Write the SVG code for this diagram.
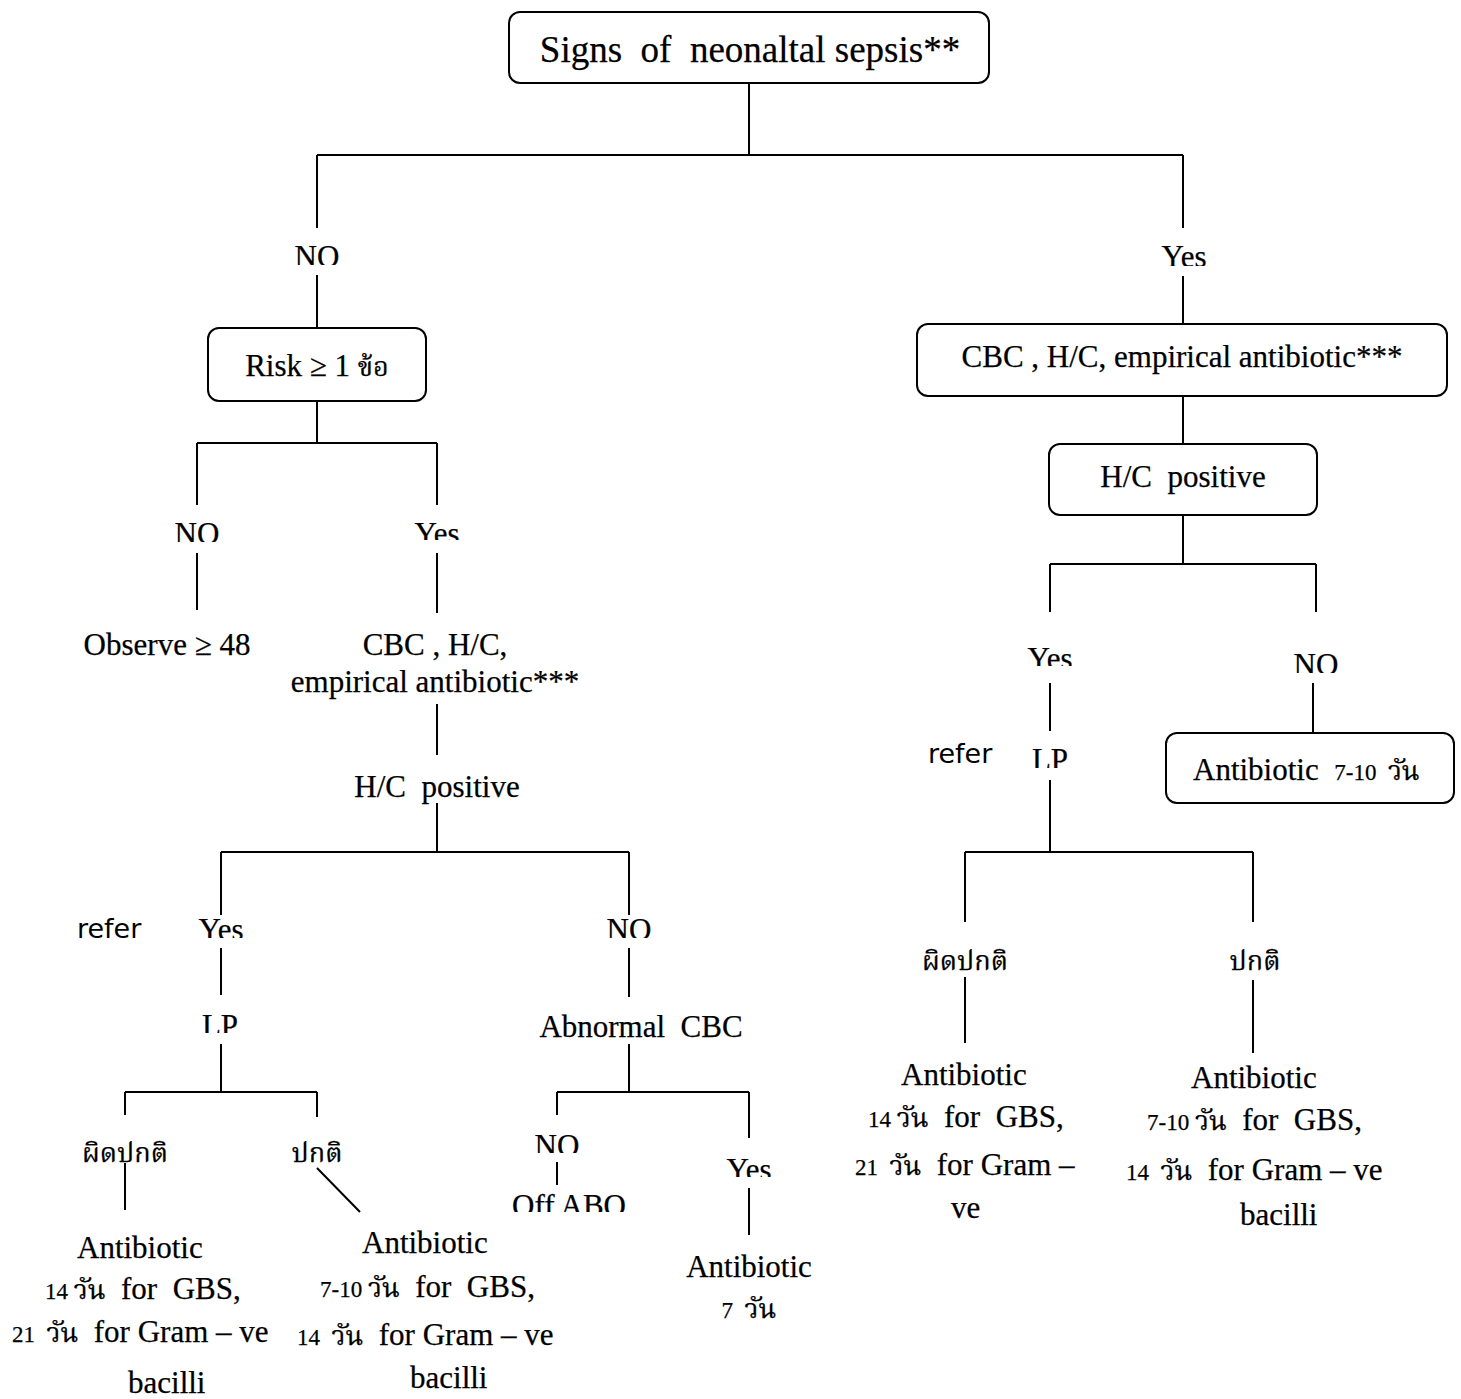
<svg xmlns="http://www.w3.org/2000/svg" width="1461" height="1399" viewBox="0 0 1461 1399">
<style>
text{font-family:"Liberation Serif","Noto Serif Thai","Noto Sans Thai","Tlwg Typo","Norasi","Garuda",serif;font-size:31px;fill:#000;stroke:#000;stroke-width:0.25}
.big{font-size:37px}
.s{font-size:23px}
.th{font-size:27px}
.m{text-anchor:middle}
.sans{font-family:"DejaVu Sans","Liberation Sans",sans-serif;font-size:27px;stroke-width:0}
.box{fill:#fff;stroke:#000;stroke-width:2}
.ln{fill:none;stroke:#000;stroke-width:2}
</style>
<defs>
<clipPath id="cNO1"><rect x="260" y="220" width="120" height="45"/></clipPath>
<clipPath id="cYes1"><rect x="1130" y="220" width="120" height="46"/></clipPath>
<clipPath id="cNO2"><rect x="150" y="500" width="100" height="42"/></clipPath>
<clipPath id="cYes2"><rect x="390" y="500" width="100" height="40"/></clipPath>
<clipPath id="cYes3"><rect x="170" y="900" width="100" height="38"/></clipPath>
<clipPath id="cNO3"><rect x="580" y="900" width="100" height="38"/></clipPath>
<clipPath id="cLP1"><rect x="170" y="1000" width="100" height="33"/></clipPath>
<clipPath id="cNO4"><rect x="510" y="1120" width="100" height="33"/></clipPath>
<clipPath id="cOff"><rect x="490" y="1180" width="160" height="32"/></clipPath>
<clipPath id="cYes4"><rect x="700" y="1140" width="100" height="37"/></clipPath>
<clipPath id="cYes5"><rect x="1000" y="630" width="100" height="36"/></clipPath>
<clipPath id="cNO5"><rect x="1260" y="630" width="100" height="43"/></clipPath>
<clipPath id="cLP2"><rect x="1000" y="735" width="100" height="33"/></clipPath>
</defs>

<g id="connectors">
<path class="ln" d="M749 84V155M317 155H1183M317 155V228M1183 155V228"/>
<path class="ln" d="M317 275V328M317 401V443M197 443H437M197 443V505M437 443V505"/>
<path class="ln" d="M197 553V610M437 553V613M437 704V755M437 803V852M221 852H629M221 852V915M629 852V915"/>
<path class="ln" d="M221 948V995M221 1044V1092M125 1092H317M125 1092V1115M317 1092V1117M125 1163V1210M317 1168L360 1212"/>
<path class="ln" d="M629 948V997M629 1044V1092M557 1092H749M557 1092V1115M749 1092V1138M557 1162V1185M749 1188V1235"/>
<path class="ln" d="M1183 276V324M1183 396V444M1183 515V564M1050 564H1316M1050 564V612M1316 564V612M1050 683V731M1313 683V733M1050 780V852"/>
<path class="ln" d="M965 852H1253M965 852V922M1253 852V922M965 977V1043M1253 980V1053"/>
</g>

<g id="n-signs">
<rect class="box" x="509" y="12" width="480" height="71" rx="11"/>
<text class="big m" x="750" y="62" xml:space="preserve">Signs  of  neonaltal sepsis**</text>
</g>
<g id="n-no1"><text class="m" x="317" y="267" clip-path="url(#cNO1)">NO</text></g>
<g id="n-yes1"><text class="m" x="1184" y="267" clip-path="url(#cYes1)">Yes</text></g>

<g id="n-risk">
<rect class="box" x="208" y="328" width="218" height="73" rx="11"/>
<text class="m" x="317" y="376">Risk ≥ 1 <tspan class="th">ข้อ</tspan></text>
</g>
<g id="n-no2"><text class="m" x="197" y="544" clip-path="url(#cNO2)">NO</text></g>
<g id="n-yes2"><text class="m" x="437" y="544" clip-path="url(#cYes2)">Yes</text></g>
<g id="n-observe"><text class="m" x="167" y="655">Observe ≥ 48</text></g>
<g id="n-cbc-left">
<text class="m" x="435" y="655">CBC , H/C,</text>
<text class="m" x="435" y="692">empirical antibiotic***</text>
</g>
<g id="n-hc-left"><text class="m" x="437" y="797" xml:space="preserve">H/C  positive</text></g>
<g id="n-refer-left"><text class="sans" x="77" y="938">refer</text></g>
<g id="n-yes3"><text class="m" x="221" y="940" clip-path="url(#cYes3)">Yes</text></g>
<g id="n-no3"><text class="m" x="629" y="940" clip-path="url(#cNO3)">NO</text></g>
<g id="n-lp-left"><text class="m" x="220" y="1036" clip-path="url(#cLP1)">LP</text></g>
<g id="n-abn"><text class="m" x="641" y="1037" xml:space="preserve">Abnormal  CBC</text></g>
<g id="n-abnormal-left"><text class="m th" x="125" y="1162">ผิดปกติ</text></g>
<g id="n-normal-left"><text class="m th" x="317" y="1162">ปกติ</text></g>
<g id="n-ab14-left">
<text x="77" y="1258">Antibiotic</text>
<text x="45" y="1299" xml:space="preserve"><tspan class="s">14 </tspan><tspan class="th">วัน</tspan>  for  GBS,</text>
<text x="12" y="1342" xml:space="preserve"><tspan class="s">21  </tspan><tspan class="th">วัน</tspan>  for Gram – ve</text>
<text x="128" y="1393">bacilli</text>
</g>
<g id="n-ab7-left">
<text x="362" y="1253">Antibiotic</text>
<text x="320" y="1297" xml:space="preserve"><tspan class="s">7-10 </tspan><tspan class="th">วัน</tspan>  for  GBS,</text>
<text x="297" y="1345" xml:space="preserve"><tspan class="s">14  </tspan><tspan class="th">วัน</tspan>  for Gram – ve</text>
<text x="410" y="1388">bacilli</text>
</g>
<g id="n-no4"><text class="m" x="557" y="1156" clip-path="url(#cNO4)">NO</text></g>
<g id="n-off"><text class="m" x="569" y="1216" clip-path="url(#cOff)">Off ABO</text></g>
<g id="n-yes4"><text class="m" x="749" y="1180" clip-path="url(#cYes4)">Yes</text></g>
<g id="n-ab7d">
<text class="m" x="749" y="1277">Antibiotic</text>
<text class="m" x="749" y="1318" xml:space="preserve"><tspan class="s">7  </tspan><tspan class="th">วัน</tspan></text>
</g>

<g id="n-cbc-right">
<rect class="box" x="917" y="324" width="530" height="72" rx="11"/>
<text class="m" x="1182" y="367">CBC , H/C, empirical antibiotic***</text>
</g>
<g id="n-hc-right">
<rect class="box" x="1049" y="444" width="268" height="71" rx="11"/>
<text class="m" x="1183" y="487" xml:space="preserve">H/C  positive</text>
</g>
<g id="n-yes5"><text class="m" x="1050" y="669" clip-path="url(#cYes5)">Yes</text></g>
<g id="n-no5"><text class="m" x="1316" y="675" clip-path="url(#cNO5)">NO</text></g>
<g id="n-refer-right"><text class="sans" x="928" y="763">refer</text></g>
<g id="n-lp-right"><text class="m" x="1050" y="770" clip-path="url(#cLP2)">LP</text></g>
<g id="n-ab710">
<rect class="box" x="1166" y="733" width="288" height="70" rx="11"/>
<text x="1193" y="780" xml:space="preserve">Antibiotic  <tspan class="s">7-10  </tspan><tspan class="th">วัน</tspan></text>
</g>
<g id="n-abnormal-right"><text class="m th" x="965" y="970">ผิดปกติ</text></g>
<g id="n-normal-right"><text class="m th" x="1255" y="970">ปกติ</text></g>
<g id="n-ab14-right">
<text x="901" y="1085">Antibiotic</text>
<text x="868" y="1127" xml:space="preserve"><tspan class="s">14 </tspan><tspan class="th">วัน</tspan>  for  GBS,</text>
<text x="855" y="1175" xml:space="preserve"><tspan class="s">21  </tspan><tspan class="th">วัน</tspan>  for Gram –</text>
<text x="951" y="1218">ve</text>
</g>
<g id="n-ab7-right">
<text x="1191" y="1088">Antibiotic</text>
<text x="1147" y="1130" xml:space="preserve"><tspan class="s">7-10 </tspan><tspan class="th">วัน</tspan>  for  GBS,</text>
<text x="1126" y="1180" xml:space="preserve"><tspan class="s">14  </tspan><tspan class="th">วัน</tspan>  for Gram – ve</text>
<text x="1240" y="1225">bacilli</text>
</g>
</svg>
